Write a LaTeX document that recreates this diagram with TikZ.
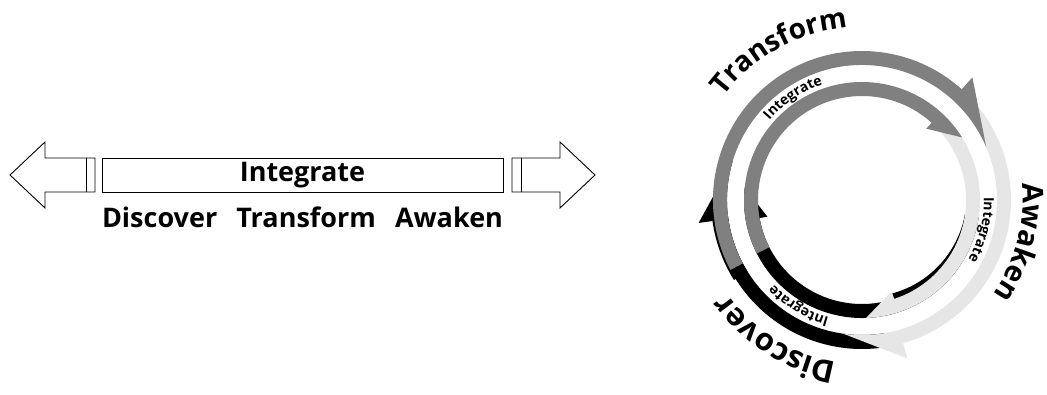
\documentclass[tikz,border=0pt]{standalone}
\usepackage{fontspec}
\setmainfont{Open Sans}
\usetikzlibrary{decorations.text}

\definecolor{ringgrey}{HTML}{808080}
\definecolor{ringlight}{HTML}{E6E6E6}

% outer ring arrow: colour, start, end of band, tip
\newcommand{\outerarrow}[4]{%
  \fill[#1] (#2:149) arc[start angle=#2, end angle=#3, radius=149pt]
    -- (#3:165) -- (#4:135)
    arc[start angle=#4, end angle=#2, radius=135pt] -- cycle;}
% inner ring arrow: colour, start, end of band, tip
\newcommand{\innerarrow}[4]{%
  \fill[#1] (#2:118) arc[start angle=#2, end angle=#4, radius=118pt]
    -- (#3:96) -- (#3:104)
    arc[start angle=#3, end angle=#2, radius=104pt] -- cycle;}

\tikzset{
  bigtext/.style={font=\fontsize{27}{30}\selectfont\bfseries},
  outerlabel/.style 2 args={decorate, decoration={text along path, text align=center,
    text={|\fontsize{#2}{30}\selectfont\bfseries|#1}}},
  innerlabel/.style={decorate, decoration={text along path, text align=center,
    text={|\fontsize{14}{16}\selectfont\bfseries|#1}}},
}

\begin{document}
\begin{tikzpicture}[x=1pt, y=1pt, line width=0.9pt]
\useasboundingbox (0,0) rectangle (1047,394);

% straight version
\node[draw, bigtext, minimum width=401pt, minimum height=34pt, inner sep=0pt] (bar) at (302.5,219) {Integrate};
\node[bigtext, anchor=base] (phases) at (302.5,166) {\makebox[401pt][s]{Discover Transform Awaken}};

\draw (10,219) -- (45,252) -- (45,236) -- (95,236) -- (95,202) -- (45,202) -- (45,186) -- cycle;
\draw (86,236) -- (86,202);
\draw (595,219) -- (560,252) -- (560,236) -- (512,236) -- (512,202) -- (560,202) -- (560,186) -- cycle;
\draw (521,236) -- (521,202);

% circular version
\begin{scope}[shift={(862,194)}]
\outerarrow{black}{-80}{-172}{-197}
\fill[black] (186:135) arc[start angle=186, end angle=212, radius=135pt]
  -- (212:151) arc[start angle=212, end angle=186, radius=151pt] -- cycle;
\outerarrow{ringlight}{52}{-74}{-98}
\outerarrow{ringgrey}{208}{48}{23}

\innerarrow{black}{-8}{-170}{-186}
\fill[black] plot[domain=-8:-74, samples=25] (\x:{104-6*(-8-\x)/66})
  -- (-74:105) arc[start angle=-74, end angle=-8, radius=105pt] -- cycle;
\innerarrow{ringlight}{60}{-72}{-88}
\innerarrow{ringgrey}{207}{48}{32}

\path[outerlabel={Transform}{28}] (166:173) arc[start angle=166, end angle=72, radius=173pt];
\path[outerlabel={Awaken}{29}] (30:161) arc[start angle=30, end angle=-60, radius=161pt];
\path[outerlabel={Discover}{31}] (-76:164) arc[start angle=-76, end angle=-168, radius=164pt];

\path[innerlabel=Integrate] (174:122) arc[start angle=174, end angle=74, radius=122pt];
\path[innerlabel=Integrate] (36:122) arc[start angle=36, end angle=-64, radius=122pt];
\path[innerlabel=Integrate] (-71:122) arc[start angle=-71, end angle=-171, radius=122pt];
\end{scope}

\end{tikzpicture}
\end{document}
